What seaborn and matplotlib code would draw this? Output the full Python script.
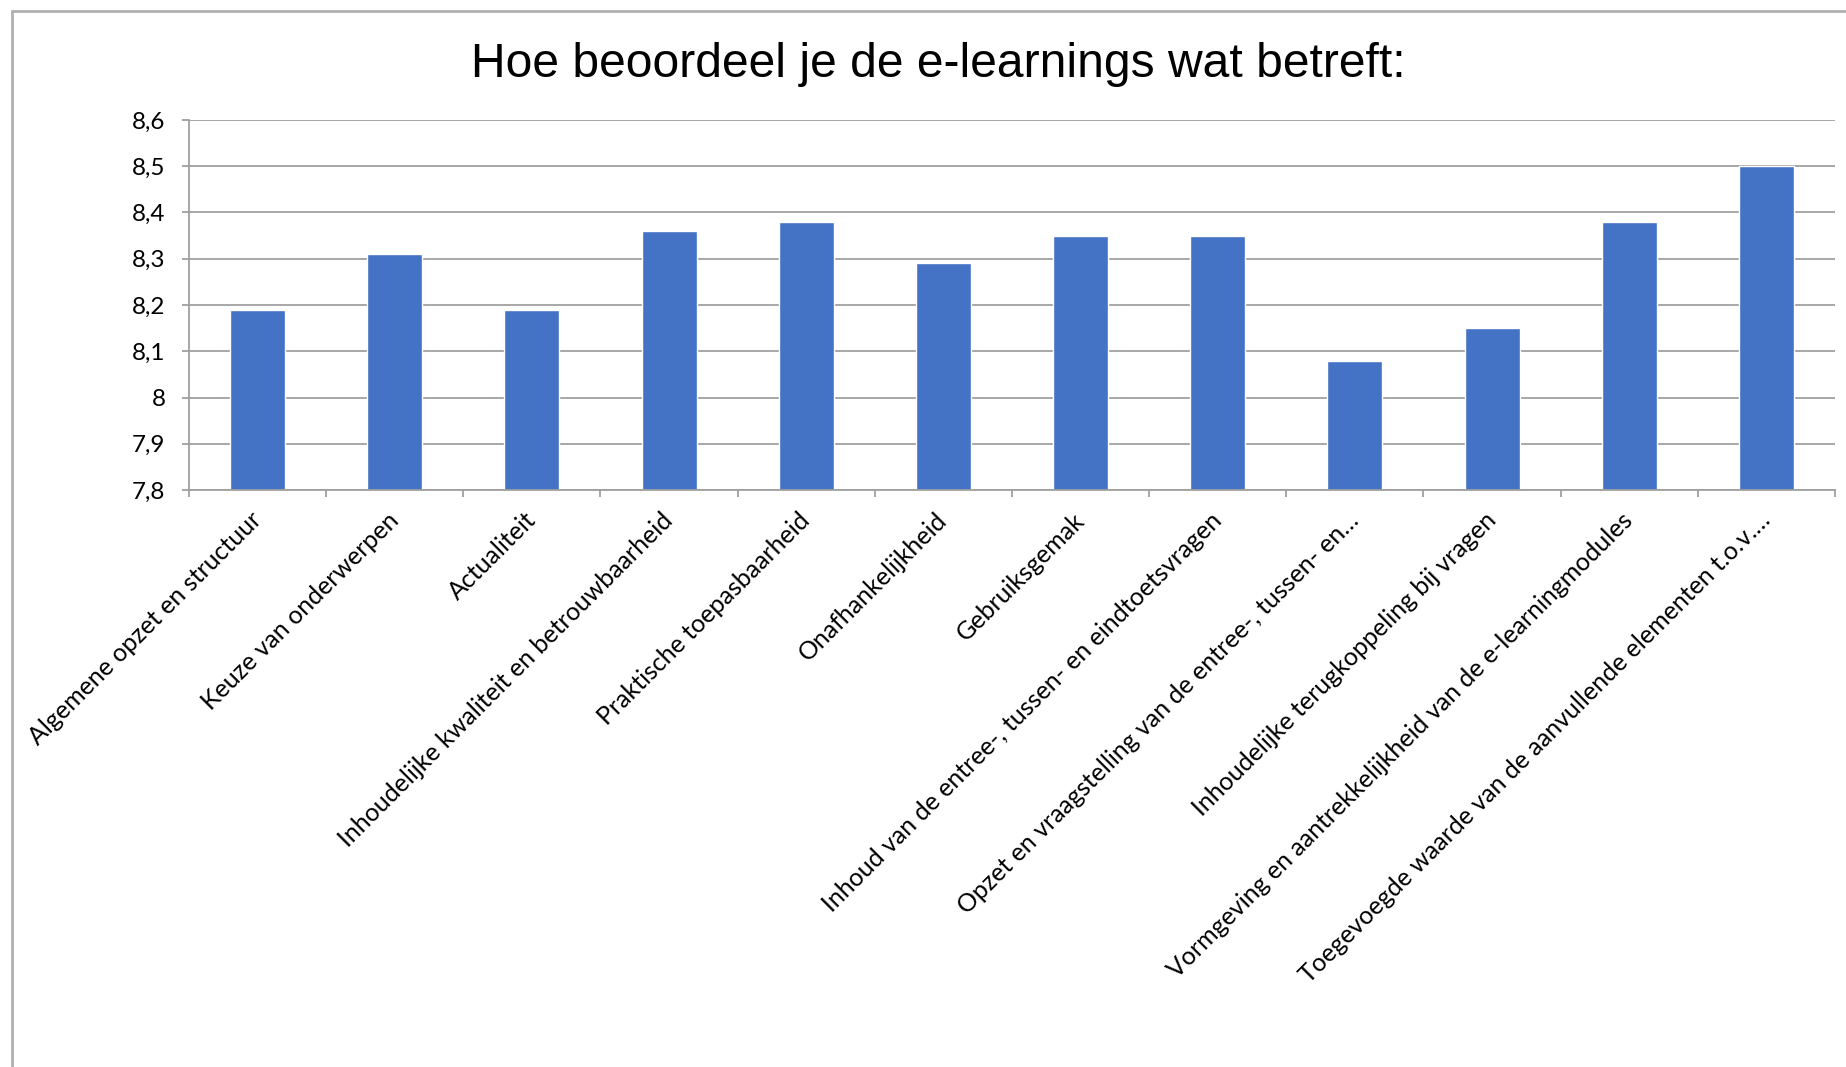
import matplotlib
matplotlib.use("Agg")
import matplotlib.pyplot as plt
from matplotlib.lines import Line2D
from matplotlib.ticker import FuncFormatter, FixedLocator
import seaborn as sns
import numpy as np

# === data ===
categories = [
    "Algemene opzet en structuur",
    "Keuze van onderwerpen",
    "Actualiteit",
    "Inhoudelijke kwaliteit en betrouwbaarheid",
    "Praktische toepasbaarheid",
    "Onafhankelijkheid",
    "Gebruiksgemak",
    "Inhoud van de entree-, tussen- en eindtoetsvragen",
    "Opzet en vraagstelling van de entree-, tussen- en…",
    "Inhoudelijke terugkoppeling bij vragen",
    "Vormgeving en aantrekkelijkheid van de e-learningmodules",
    "Toegevoegde waarde van de aanvullende elementen t.o.v.…",
]
scores = [8.19, 8.31, 8.19, 8.36, 8.38, 8.29, 8.35, 8.35, 8.08, 8.15, 8.38, 8.50]
y_ticks = [7.8, 7.9, 8.0, 8.1, 8.2, 8.3, 8.4, 8.5, 8.6]
title = "Hoe beoordeel je de e-learnings wat betreft:"

BAR_COLOR = "#4472C4"
GRID_COLOR = "#a0a0a0"
LABEL_FONT = ["Lato", "DejaVu Sans"]

sns.set_theme(style="white")
plt.rcParams["font.family"] = LABEL_FONT

fig = plt.figure(figsize=(18.46, 10.67), dpi=100)
ax = fig.add_axes([189 / 1846, 1 - 490 / 1067, (1835 - 189) / 1846, (490 - 120) / 1067])

sns.barplot(x=categories, y=scores, color=BAR_COLOR, saturation=1, width=0.4, ax=ax)

ax.set_xlim(-0.5, len(categories) - 0.5)
ax.set_ylim(y_ticks[0], y_ticks[-1])
ax.yaxis.set_major_locator(FixedLocator(y_ticks))
ax.yaxis.set_major_formatter(FuncFormatter(lambda v, p: ("%g" % round(v, 1)).replace(".", ",")))
ax.yaxis.grid(True, color=GRID_COLOR, linewidth=1.3)
ax.set_axisbelow(True)
ax.set_xlabel("")
ax.set_ylabel("")

for s in ["top", "right"]:
    ax.spines[s].set_visible(False)
for s in ["left", "bottom"]:
    ax.spines[s].set_color(GRID_COLOR)
    ax.spines[s].set_linewidth(1.3)

ax.tick_params(axis="y", which="major", direction="out", length=5, width=1.3,
               color=GRID_COLOR, pad=12, labelsize=17.5, labelcolor="black", left=True)
# category ticks sit between the bars, like Excel
ax.set_xticks(np.arange(len(categories)))
ax.set_xticks(np.arange(len(categories) + 1) - 0.5, minor=True)
ax.tick_params(axis="x", which="major", length=0, pad=19, labelsize=18, labelcolor="black")
ax.tick_params(axis="x", which="minor", direction="out", length=5, width=1.3,
               color=GRID_COLOR, bottom=True)
ax.set_xticklabels(categories, rotation=45, ha="right", va="center", rotation_mode="anchor")

fig.text(938 / 1846, 1 - 76.7 / 1067, title, ha="center", va="baseline",
         fontsize=34.6, family=["Liberation Sans", "DejaVu Sans"], color="black")

# chart frame (left and top edges visible in the screenshot)
fig.add_artist(Line2D([12 / 1846, 12 / 1846], [0, 1 - 11 / 1067], transform=fig.transFigure,
                      color="#b0b0b0", linewidth=2))
fig.add_artist(Line2D([12 / 1846, 1], [1 - 11 / 1067, 1 - 11 / 1067], transform=fig.transFigure,
                      color="#b0b0b0", linewidth=2))

fig.savefig("out.png", dpi=100, facecolor="white")
